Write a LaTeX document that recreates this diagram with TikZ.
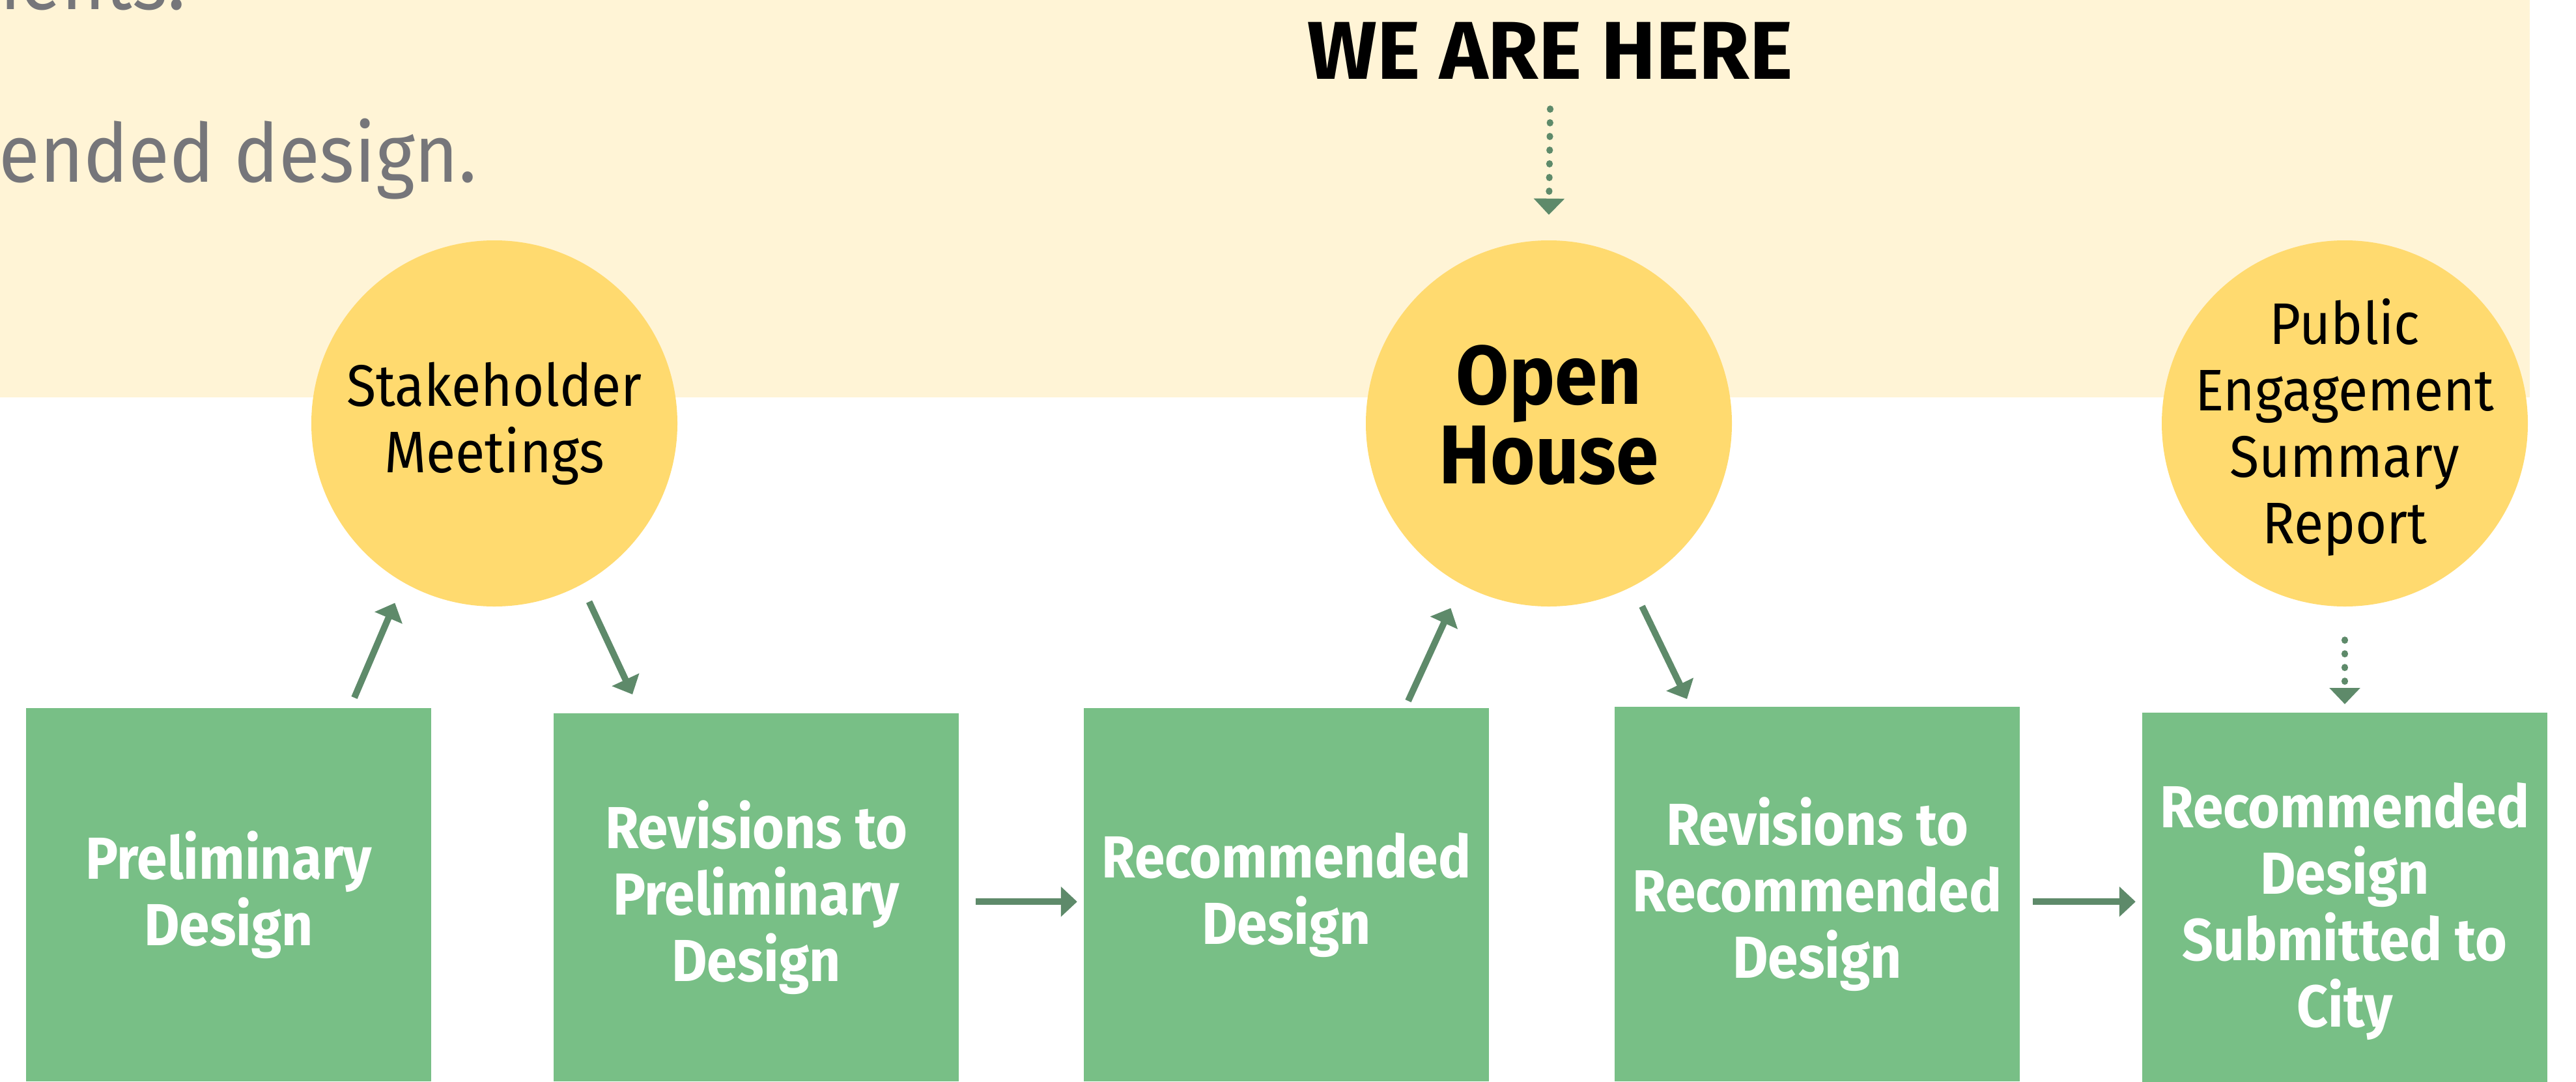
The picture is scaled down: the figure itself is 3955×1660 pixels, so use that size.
\documentclass[tikz,border=0pt]{standalone}
\usepackage{fontspec}
\setmainfont{Fira Sans}[FakeStretch=0.92]
\newfontfamily\widefont{Fira Sans}
\usetikzlibrary{arrows.meta,calc}
\definecolor{bandc}{HTML}{FFF4D6}
\definecolor{circc}{HTML}{FFDA6F}
\definecolor{boxc}{HTML}{78BF86}
\definecolor{arrc}{HTML}{5E8A6A}
\definecolor{grayt}{HTML}{76767A}
\tikzset{
  graytext/.style={inner sep=0pt, text=grayt, font=\fontsize{125bp}{150bp}\selectfont},
  heretext/.style={inner sep=0pt, anchor=base, font=\widefont\bfseries\fontsize{126bp}{126bp}\selectfont},
  circ/.style={circle, fill=circc, minimum size=562bp, inner sep=0pt, align=center,
    font=\fontsize{90bp}{102bp}\selectfont},
  circtext/.style={inner sep=0pt, align=center, font=\fontsize{90bp}{102bp}\selectfont},
  gbox/.style={rectangle, fill=boxc, anchor=north, minimum width=622bp, inner sep=0pt,
    align=center, text=white, font=\bfseries\fontsize{91bp}{102bp}\selectfont},
  arr/.style={draw=arrc, line width=10bp, -{Triangle[length=25bp,width=45bp]}},
  dotarr/.style={draw=arrc, line width=10bp, line cap=round, dash pattern=on 1bp off 20bp,
    -{Triangle[length=25bp,width=46bp]}}
}
\begin{document}
\begin{tikzpicture}[x=1bp,y=-1bp]
\useasboundingbox (0,0) rectangle (3955,1660);
\clip (0,0) rectangle (3955,1660);
% background band
\fill[bandc] (0,0) rectangle (3884,610);
% partial intro texts
\node[graytext, anchor=base east] (t1) at (285,15) {ments.};
\node[graytext, anchor=base east] (t2) at (732,279) {ended design.};
\node[heretext] (here) at (2380,121) {WE ARE HERE};
% circles
\node[circ] (s1) at (759,650) {Stakeholder\\Meetings};
\node[circ, font=\bfseries\fontsize{128bp}{122bp}\selectfont] (oh) at (2378,650) {Open\\House\vphantom{g}};
\node[circ] (pe) at (3600,650) {};
\node[circtext] (pet) at ([yshift=-6bp]pe.center) {Public\\Engagement\\Summary\\Report};
% boxes
\node[gbox, minimum height=573bp] (b1) at (351,1087) {Preliminary\\Design};
\node[gbox, minimum height=565bp] (b2) at (1161,1095) {Revisions to\\Preliminary\\Design};
\node[gbox, minimum height=573bp] (b3) at (1975,1087) {Recommended\\Design};
\node[gbox, minimum height=575bp] (b4) at (2790,1085) {Revisions to\\Recommended\\Design};
\node[gbox, minimum height=610bp] (b5) at (3600,1094) {Recommended\\Design\\Submitted to\\City};
% arrows
\draw[arr] ([xshift=193bp,yshift=16bp]b1.north) -- ($(s1.center)!315bp!(s1.241)$);
\draw[arr] ($(s1.center)!310bp!(s1.298)$) -- ([xshift=-190bp,yshift=29bp]b2.north);
\draw[arr] ([xshift=187bp,yshift=11bp]b3.north) -- ($(oh.center)!321bp!(oh.242)$);
\draw[arr] ($(oh.center)!315bp!(oh.297)$) -- ([xshift=-200bp,yshift=12bp]b4.north);
\draw[arr, shorten >=10bp] ([xshift=26bp,yshift=-6.5bp]b2.east) coordinate (h1) -- (h1 -| b3.west);
\draw[arr, shorten >=10bp] ([xshift=20bp,yshift=-11.5bp]b4.east) coordinate (h2) -- (h2 -| b5.west);
% dotted arrows
\draw[dotarr] ([yshift=-46bp]here.base) -- ([yshift=39bp]oh.north);
\draw[dotarr] ([yshift=-51bp]pe.south) -- ([yshift=13bp]b5.north);
\end{tikzpicture}
\end{document}
